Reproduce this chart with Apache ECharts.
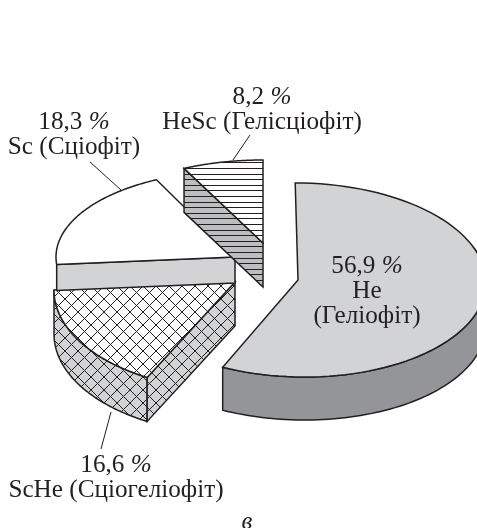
<!DOCTYPE html>
<html><head><meta charset="utf-8">
<style>html,body{margin:0;padding:0;background:#fff}#c{width:477px;height:528px}</style>
<script src="https://cdn.jsdelivr.net/npm/echarts@6/dist/echarts.min.js"></script></head>
<body><div id="c"></div>
<script>
// data
const categories = ['He','ScHe','Sc','HeSc'];
const percents = [56.9,16.6,18.3,8.2];
const valueLabels = ['56,9','16,6','18,3','8,2'];
const nameLabels = [['He','(Геліофіт)'],['ScHe (Сціогеліофіт)'],['Sc (Сціофіт)'],['HeSc (Гелісціофіт)']];
const caption = 'в';

// layout of the exploded, squashed slices
const layout = [
 {ax:298,ay:280,cx:300,cy:280,rx:186,ry:97,rot:1,depth:43,nudge:[-2,-0.8]},
 {ax:235,ay:282,cx:235,cy:290,rx:181,ry:100,rot:0,depth:44,nudge:[4.2,5.4]},
 {ax:235,ay:257,cx:235,cy:257,rx:179,ry:86,rot:0,depth:26,nudge:[0.4,3.5]},
 {ax:263,ay:243,cx:263,cy:243,rx:180,ry:83,rot:0,depth:44,nudge:[3.5,0]}
];
const GREY='#d1d3d4', DARK='#939598', MID='#bcbec0', INK='#231f20';
const FONT='"Liberation Serif","Times New Roman",serif';

function pattern(bg,kind){
  const c=document.createElement('canvas');
  if(kind==='h'){c.width=8;c.height=56;}else{c.width=c.height=13;}
  const g=c.getContext('2d');
  if(bg){g.fillStyle=bg;g.fillRect(0,0,c.width,c.height);}
  g.strokeStyle=INK;g.lineWidth=1;
  g.beginPath();
  if(kind==='h'){for(let i=0;i<10;i++){const y=Math.round(i*5.6)+.5;g.moveTo(0,y);g.lineTo(8,y);}}
  else{const n=13;for(let k=-1;k<=1;k++){g.moveTo(k*n,0);g.lineTo(k*n+n,n);g.moveTo(k*n,n);g.lineTo(k*n+n,0);}}
  g.stroke();
  return {image:c,repeat:'repeat'};
}
const ends=[];percents.reduce((a,v,i)=>{ends[i]=[a/100*360,(a+v)/100*360];return a+v;},0);
function pt(l,deg,dy){
  const t=deg*Math.PI/180,u=l.rx*Math.sin(t),v=-l.ry*Math.cos(t),f=l.rot*Math.PI/180;
  return [l.cx+u*Math.cos(f)-v*Math.sin(f),l.cy+u*Math.sin(f)+v*Math.cos(f)+(dy||0)];
}
function arc(l,a,b,dy){const p=[],n=80;for(let i=0;i<=n;i++)p.push(pt(l,a+(b-a)*i/n,dy));return p;}
const S=(f,lw)=>({fill:f||'none',stroke:INK,lineWidth:lw||1.5,lineJoin:'miter'});
function poly(points,f,lw){return {type:'polygon',shape:{points},style:S(f,lw)};}

const styleOf=[
 {top:GREY,wall:DARK,cut:DARK},
 {top:pattern('#fff','x'),wall:pattern(GREY,'x'),cut:pattern(GREY,'x')},
 {top:'#fff',wall:GREY,cut:GREY},
 {top:pattern('#fff','h'),wall:pattern(MID,'h'),cut:pattern(MID,'h')}
];

function renderItem(params,api){
  const i=params.dataIndex, l=layout[i], d=l.depth, st=styleOf[i];
  const a=ends[i][0]+l.nudge[0], b=ends[i][1]+l.nudge[1];
  const P=[l.ax,l.ay], kids=[];
  if(i===0){
    kids.push(poly(arc(l,70,b).concat(arc(l,b,70,d)),st.wall));
  }
  if(i===1){
    kids.push(poly(arc(l,a,b).concat(arc(l,b,a,d)),st.wall));
    const A=pt(l,a);
    kids.push(poly([P,A,[A[0],A[1]+d],[P[0],P[1]+d]],st.cut));
  }
  if(i===2||i===3){
    const A=pt(l,a);
    kids.push(poly([P,A,[A[0],A[1]+d],[P[0],P[1]+d]],st.wall));
  }
  kids.push(poly([P].concat(arc(l,a,b)),st.top));
  return {type:'group',children:kids};
}
const FS=25.2;
const rich={n:{font:FS+'px '+FONT,fill:INK,lineHeight:25},p:{font:'italic '+FS+'px '+FONT,fill:INK,lineHeight:25},t:{font:FS+'px '+FONT,fill:INK,lineHeight:25}};
function labelText(i){return [`{n|${valueLabels[i]} }{p|%}`].concat(nameLabels[i].map(s=>`{t|${s}}`)).join('\n');}
function label(i,x,y){return {type:'text',x,y,style:{text:labelText(i),rich,textAlign:'center',fill:INK},z:10};}
const leader=(x1,y1,x2,y2)=>({type:'line',shape:{x1,y1,x2,y2},style:{stroke:INK,lineWidth:1},z:10});
const chart=echarts.init(document.getElementById('c'),null,{renderer:'canvas'});
chart.setOption({
  animation:false,
  series:[{type:'custom',coordinateSystem:'none',renderItem,data:percents.map((v,i)=>({name:categories[i],value:v})),clip:false,silent:true}],
  graphic:[
    label(0,367,254),label(1,116,453),label(2,74,110),label(3,262,85),
    leader(90,162,121,190),leader(233,160,250,135),leader(111,412,101,449),
    {type:'text',x:247,y:510,style:{text:caption,font:'italic 25px '+FONT,fill:INK,textAlign:'center'},z:10}
  ]
});
</script></body></html>
